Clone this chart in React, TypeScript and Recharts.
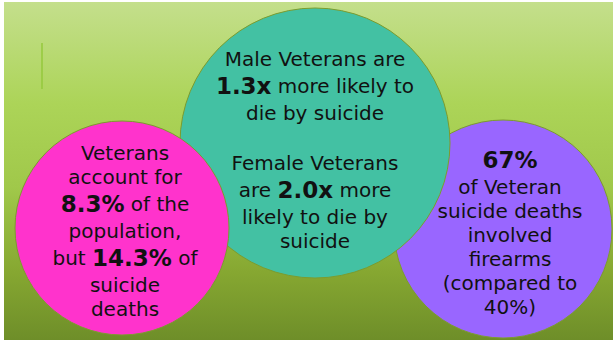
import { ScatterChart, Scatter, XAxis, YAxis, ReferenceLine } from 'recharts'

const W = 613
const H = 348

// bubbles, drawn in this order (purple under teal under pink)
const bubbleNames = ['purple', 'teal', 'pink']
const bubbleX = [503, 315, 122]
const bubbleY = [229, 143, 228]
const bubbleR = [109, 135, 107]

// where each text block is centred
const labelX = [510, 315, 125]
const labelY = [232, 150, 231]

// "**" marks the bold part, '' is a paragraph break
const purpleLines = ['**67%**', 'of Veteran', 'suicide deaths', 'involved', 'firearms', '(compared to', '40%)']
const tealLines = [
  'Male Veterans are',
  '**1.3x** more likely to',
  'die by suicide',
  '',
  'Female Veterans',
  'are **2.0x** more',
  'likely to die by',
  'suicide',
]
const pinkLines = ['Veterans', 'account for', '**8.3%** of the', 'population,', 'but **14.3%** of', 'suicide', 'deaths']
const bubbleLines = [purpleLines, tealLines, pinkLines]

const COLORS: Record<string, string> = {
  purple: '#9966ff',
  teal: '#43c1a3',
  pink: '#ff33cc',
}

const FONT = '"DejaVu Sans", sans-serif'
const LINE_H = 24
const BOLD_H = 30
const GAP_H = 26

const bubbles = bubbleNames.map((name, i) => ({
  name,
  x: bubbleX[i],
  y: bubbleY[i],
  r: bubbleR[i],
}))

const labels = bubbleNames.map((name, i) => ({
  name,
  x: labelX[i],
  y: labelY[i],
  lines: bubbleLines[i],
}))

const pxPerUnit = W / W

function BubbleShape(props: any) {
  const { cx, cy, payload } = props
  return (
    <circle
      cx={cx}
      cy={cy}
      r={payload.r * pxPerUnit}
      fill={COLORS[payload.name]}
      stroke="#7c9c2e"
      strokeWidth={1}
    />
  )
}

function lineHeight(line: string) {
  if (line === '') return GAP_H
  return line.includes('**') ? BOLD_H : LINE_H
}

function LabelShape(props: any) {
  const { cx, cy, payload } = props
  const lines: string[] = payload.lines
  const total = lines.reduce((s, l) => s + lineHeight(l), 0)
  let top = cy - total / 2
  return (
    <g>
      {lines.map((line, i) => {
        const h = lineHeight(line)
        const y = top + h / 2
        top += h
        if (line === '') return null
        const parts = line.split('**')
        return (
          <text
            key={i}
            x={cx}
            y={y}
            textAnchor="middle"
            dominantBaseline="central"
            fontFamily={FONT}
            fontSize={20}
            fill="#111111"
          >
            {parts.map((p, j) =>
              j % 2 === 1 ? (
                <tspan key={j} fontWeight="bold" fontSize={23}>
                  {p}
                </tspan>
              ) : (
                <tspan key={j}>{p}</tspan>
              )
            )}
          </text>
        )
      })}
    </g>
  )
}

export default function App() {
  return (
    <div style={{ position: 'relative', width: W, height: H, background: '#ffffff' }}>
      <style>{'body{margin:0}'}</style>
      <div
        style={{
          position: 'absolute',
          left: 4,
          top: 2,
          width: W - 4,
          height: 338,
          background:
            'linear-gradient(to bottom, #c4df8c 0%, #acd458 30%, #a0c84a 55%, #86a731 80%, #6e8e29 100%)',
        }}
      />
      <div style={{ position: 'absolute', left: 0, top: 0 }}>
        <ScatterChart width={W} height={H} margin={{ top: 0, right: 0, bottom: 0, left: 0 }}>
          <XAxis type="number" dataKey="x" domain={[0, W]} hide />
          <YAxis type="number" dataKey="y" domain={[0, H]} reversed hide />
          <ReferenceLine
            segment={[
              { x: 42, y: 43 },
              { x: 42, y: 89 },
            ]}
            stroke="#94c83c"
            strokeWidth={1.5}
          />
          <Scatter data={bubbles} shape={BubbleShape} isAnimationActive={false} />
          <Scatter data={labels} shape={LabelShape} isAnimationActive={false} />
        </ScatterChart>
      </div>
    </div>
  )
}
